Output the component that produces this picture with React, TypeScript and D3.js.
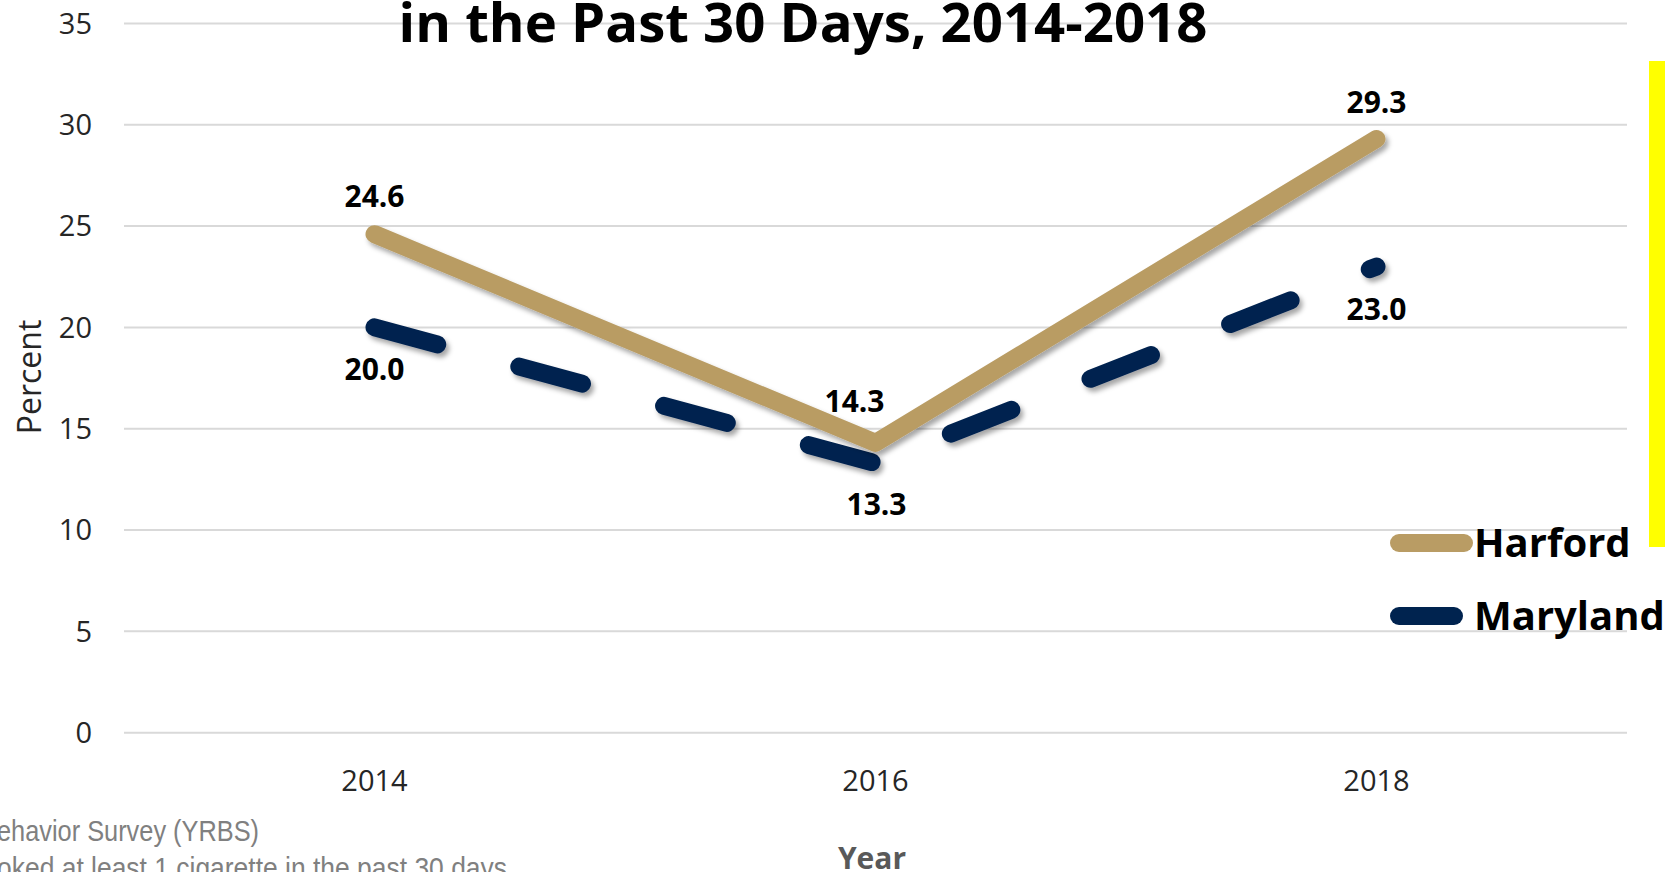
import React, { useEffect } from "react";
import * as d3 from "d3";

const years = ["2014", "2016", "2018"];
const harford = [24.6, 14.3, 29.3];
const maryland = [20.0, 13.3, 23.0];
const yTicks = [0, 5, 10, 15, 20, 25, 30, 35];
const seriesNames = ["Harford", "Maryland"];
const harfordLabelOffsets = [[0, -27], [-21, -31], [0, -26]];
const marylandLabelOffsets = [[0, 53], [1, 52], [0, 53]];

const W = 1665;
const H = 872;
const GOLD = "#B99C64";
const NAVY = "#00234F";
const FONT = "'Open Sans', 'Noto Sans', sans-serif";

export default function App() {
  useEffect(() => {
    document.body.style.margin = "0";
    document.body.style.overflow = "hidden";
  }, []);

  const x = d3.scalePoint<string>().domain(years).range([124, 1627]).padding(0.5);
  const y = d3.scaleLinear().domain([0, 35]).range([732.7, 23.4]);

  const line = d3
    .line<number>()
    .x((_, i) => x(years[i]) as number)
    .y((d) => y(d));

  return (
    <svg width={W} height={H} style={{ display: "block", background: "#fff" }}>
      <defs>
        <filter id="shadow" x="-10%" y="-10%" width="120%" height="130%">
          <feDropShadow dx="3" dy="4" stdDeviation="2.5" floodColor="#000" floodOpacity="0.35" />
        </filter>
      </defs>

      {/* gridlines */}
      {yTicks.map((t) => (
        <line key={t} x1={124} x2={1627} y1={y(t)} y2={y(t)} stroke="#d9d9d9" strokeWidth={2} />
      ))}

      {/* y tick labels */}
      {yTicks.map((t) => (
        <text
          key={"yl" + t}
          x={92}
          y={y(t)}
          dy="0.35em"
          textAnchor="end"
          fontFamily={FONT}
          fontSize={29}
          fill="#262626"
        >
          {t}
        </text>
      ))}

      {/* x tick labels */}
      {years.map((yr) => (
        <text
          key={"xl" + yr}
          x={x(yr)}
          y={791}
          textAnchor="middle"
          fontFamily={FONT}
          fontSize={29}
          fill="#262626"
        >
          {yr}
        </text>
      ))}

      {/* axis titles */}
      <text
        transform="translate(41,377) rotate(-90)"
        textAnchor="middle"
        fontFamily={FONT}
        fontSize={32}
        fill="#262626"
      >
        Percent
      </text>
      <text x={872} y={869} textAnchor="middle" fontFamily={FONT} fontSize={30} fontWeight="bold" fill="#595959">
        Year
      </text>

      {/* title */}
      <text x={803} y={42} textAnchor="middle" fontFamily={FONT} fontSize={54.5} fontWeight="bold" fill="#000">
        in the Past 30 Days, 2014-2018
      </text>

      {/* series */}
      <path
        d={line(maryland) || ""}
        fill="none"
        stroke={NAVY}
        strokeWidth={18}
        strokeLinecap="round"
        strokeLinejoin="round"
        strokeDasharray="65 85"
        filter="url(#shadow)"
      />
      <path
        d={line(harford) || ""}
        fill="none"
        stroke={GOLD}
        strokeWidth={18}
        strokeLinecap="round"
        strokeLinejoin="round"
        filter="url(#shadow)"
      />

      {/* data labels */}
      {harford.map((v, i) => (
        <text
          key={"hl" + i}
          x={(x(years[i]) as number) + harfordLabelOffsets[i][0]}
          y={y(v) + harfordLabelOffsets[i][1]}
          textAnchor="middle"
          fontFamily={FONT}
          fontSize={30}
          fontWeight="bold"
          fill="#000"
        >
          {v.toFixed(1)}
        </text>
      ))}
      {maryland.map((v, i) => (
        <text
          key={"ml" + i}
          x={(x(years[i]) as number) + marylandLabelOffsets[i][0]}
          y={y(v) + marylandLabelOffsets[i][1]}
          textAnchor="middle"
          fontFamily={FONT}
          fontSize={30}
          fontWeight="bold"
          fill="#000"
        >
          {v.toFixed(1)}
        </text>
      ))}

      {/* legend */}
      <line x1={1399} x2={1464} y1={543} y2={543} stroke={GOLD} strokeWidth={18} strokeLinecap="round" />
      <line x1={1399} x2={1454} y1={616} y2={616} stroke={NAVY} strokeWidth={18} strokeLinecap="round" />
      <text x={1474} y={557} fontFamily={FONT} fontSize={40} fontWeight="bold" fill="#000">
        {seriesNames[0]}
      </text>
      <text x={1474} y={630} fontFamily={FONT} fontSize={40} fontWeight="bold" fill="#000">
        {seriesNames[1]}
      </text>

      {/* yellow highlight bar */}
      <rect x={1649} y={61} width={16} height={486} fill="#FFFF00" />

      {/* footer (cut off) */}
      <text
        x={-3}
        y={841}
        fontFamily="'Liberation Sans Narrow', 'Liberation Sans', Arial, sans-serif"
        fontSize={30}
        fill="#808080"
        textLength={262}
        lengthAdjust="spacingAndGlyphs"
      >
        ehavior Survey (YRBS)
      </text>
      <text
        x={-3}
        y={878}
        fontFamily="'Liberation Sans Narrow', 'Liberation Sans', Arial, sans-serif"
        fontSize={30}
        fill="#808080"
        textLength={510}
        lengthAdjust="spacingAndGlyphs"
      >
        oked at least 1 cigarette in the past 30 days
      </text>
    </svg>
  );
}
